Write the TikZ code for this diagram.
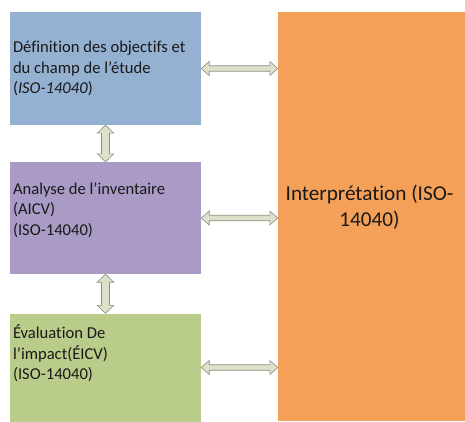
\documentclass[tikz,border=0pt]{standalone}
\usepackage{fontspec}
\setmainfont{Carlito}[Ligatures=NoCommon]
\usetikzlibrary{calc}

\definecolor{defblue}{RGB}{149,177,210}
\definecolor{aicvpurple}{RGB}{170,155,198}
\definecolor{eicvgreen}{RGB}{185,204,138}
\definecolor{interporange}{RGB}{245,160,88}
\definecolor{arrowfill}{RGB}{221,225,203}
\definecolor{arrowline}{RGB}{140,145,128}

\tikzset{
  stage/.style={rectangle,inner sep=0pt,minimum width=191pt,minimum height=113pt},
  txt/.style={inner sep=0pt,align=left,text=black!90,font=\fontsize{16.6}{20.5}\selectfont},
  twoway/.style n args={3}{draw=arrowline,fill=arrowfill,line width=0.6pt,
    to path={-- ($(\tikztostart)!#3!(\tikztotarget)!#2!90:(\tikztotarget)$)
      -- ($(\tikztostart)!#3!(\tikztotarget)!#1!90:(\tikztotarget)$)
      -- ($(\tikztotarget)!#3!(\tikztostart)!#1!-90:(\tikztostart)$)
      -- ($(\tikztotarget)!#3!(\tikztostart)!#2!-90:(\tikztostart)$)
      -- (\tikztotarget)
      -- ($(\tikztotarget)!#3!(\tikztostart)!#2!90:(\tikztostart)$)
      -- ($(\tikztotarget)!#3!(\tikztostart)!#1!90:(\tikztostart)$)
      -- ($(\tikztostart)!#3!(\tikztotarget)!#1!-90:(\tikztotarget)$)
      -- ($(\tikztostart)!#3!(\tikztotarget)!#2!-90:(\tikztotarget)$)
      -- cycle}}
}

\begin{document}
\begin{tikzpicture}[x=1pt,y=1pt,node distance=149.5pt]
      \useasboundingbox (0,0) rectangle (465,421);

      \node[stage,fill=defblue] (1) at (105.5,352.5) {};
      \node[stage,fill=aicvpurple,below of=1,minimum height=112pt] (2) {};
      \node[stage,fill=eicvgreen,below of=2,minimum height=108pt] (3) {};
      \node[stage,fill=interporange,right of=2,xshift=116.5pt,yshift=1.5pt,minimum width=187pt,minimum height=409pt] (4) {};

      \node[txt,anchor=west] (1a) at ([xshift=3pt]1.west) {Définition des objectifs et\\du champ de l’étude\\(\textit{ISO-14040})};
      \node[txt,anchor=west] (2a) at ([xshift=3pt,yshift=8pt]2.west) {Analyse de l’inventaire\\(AICV)\\(ISO-14040)};
      \node[txt,anchor=west] (3a) at ([xshift=3pt,yshift=14pt]3.west) {Évaluation De\\l’impact(ÉICV)\\(ISO-14040)};
      \node[align=center,inner sep=0pt,text=black!90,font=\fontsize{21.2}{26}\selectfont] (4a) at (369.5,214) {Interprétation (ISO-\\14040)};

      \coordinate (1r) at (4.west |- 1.east);
      \coordinate (2r) at (4.west |- 2.east);
      \coordinate (3r) at (4.west |- 3.east);

      \draw[twoway={4pt}{8.3pt}{8pt}] (1.south) to (2.north);
      \draw[twoway={4pt}{8.3pt}{8pt}] (2.south) to (3.north);
      \draw[twoway={2.75pt}{7pt}{8pt}] (1.east) to (1r);
      \draw[twoway={2.75pt}{7pt}{8pt}] (2.east) to (2r);
      \draw[twoway={2.75pt}{7pt}{8pt}] (3.east) to (3r);
    \end{tikzpicture}
\end{document}
